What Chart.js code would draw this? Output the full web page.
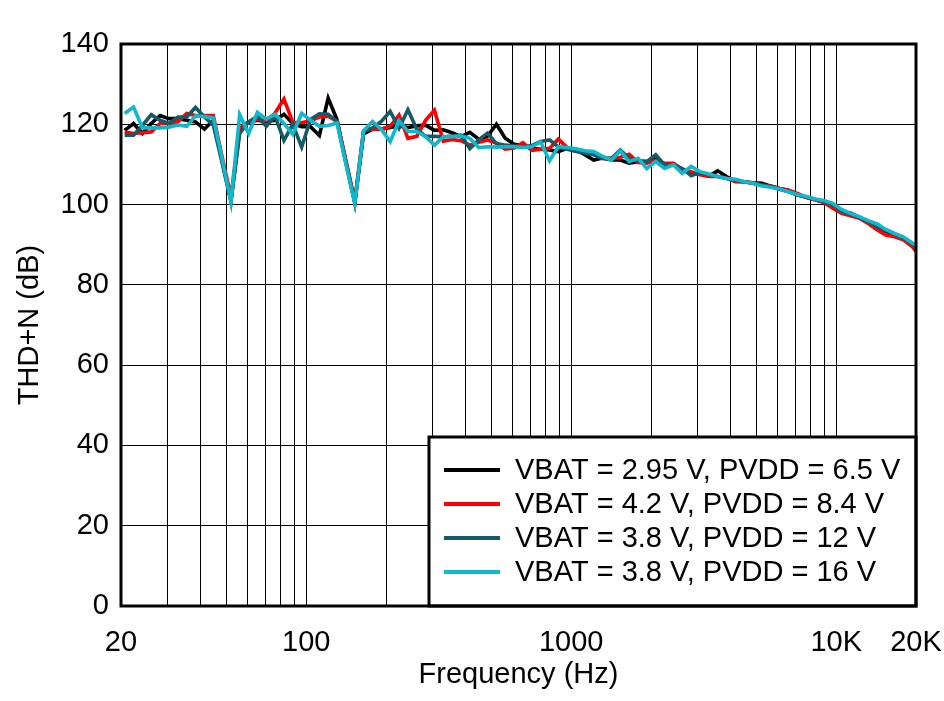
<!DOCTYPE html>
<html><head><meta charset="utf-8">
<script src="https://cdn.jsdelivr.net/npm/chart.js@4.4.0/dist/chart.umd.min.js"></script>
<style>html,body{margin:0;padding:0;background:#fff;overflow:hidden}</style>
</head><body>
<canvas id="c" width="944" height="701"></canvas>
<script>
// Frequency points (Hz)
const frequencies = [20.65,22.3,24.1,26.0,28.1,30.3,32.8,35.4,38.2,41.3,44.6,48.1,52.0,56.1,60.6,65.4,70.7,76.3,82.4,89.0,
 96.1,103.8,112.1,121.0,130.7,141.2,152.5,164.6,177.8,192.0,207.4,224.0,241.9,261.2,282.1,304.7,329.0,355.3,383.7,414.4,
 447.5,483.2,521.8,563.6,608.6,657.2,709.8,766.5,828,894,966,1043,1126,1216,1313,1418,1532,1654,1787,1929,
 2084,2250,2430,2624,2834,3061,3306,3570,3855,4164,4497,4856,5244,5664,6116,6605,7134,7704,8319,8984,
 9702,10478,11315,12219,13196,14250,15389,16618,17946,19381,20000];

// THD+N (dB) per supply condition
const vbat295_pvdd65 = [118.5,120.2,117.7,120.2,122.2,121.4,121.4,121.0,120.6,118.8,121.0,111.0,101.0,118.9,120.6,121.0,120.7,121.0,122.5,120.2,
 119.4,119.4,117.2,126.5,121.1,110.5,100.5,117.6,118.8,118.8,119.2,119.6,119.2,119.6,119.8,118.5,118.6,117.9,116.9,118.0,
 116.3,117.0,120.0,116.5,115.0,114.7,114.0,113.8,113.6,113.2,114.0,113.6,112.4,111.1,111.6,111.1,111.1,110.3,110.7,110.7,
 111.5,109.8,109.9,108.6,107.8,107.6,107.1,108.4,107.0,105.8,105.7,105.4,105.3,104.6,104.0,103.6,102.4,101.8,101.2,100.7,
 99.5,98.2,97.9,96.8,95.7,94.5,93.4,92.4,91.3,90.0,88.9];
const vbat42_pvdd84 = [118.1,117.7,117.9,118.1,120.2,120.2,120.6,122.7,122.2,122.2,122.2,112.0,102.0,119.0,120.6,121.2,120.9,122.8,126.3,120.5,
 120.4,120.9,121.8,122.0,120.7,111.0,101.0,118.3,118.8,118.8,119.5,122.3,116.5,117.0,121.0,123.5,115.8,116.2,115.9,114.8,
 115.5,116.1,115.3,113.8,114.1,115.4,113.5,113.8,114.0,116.3,114.2,113.5,113.2,112.5,111.5,111.5,111.8,112.5,110.5,110.3,
 111.0,110.3,110.3,108.8,108.2,107.4,107.0,107.0,106.6,105.7,105.7,105.3,104.9,104.5,104.0,103.6,102.8,101.8,101.2,100.5,
 99.1,97.8,97.2,96.6,95.3,93.7,92.4,92.0,91.2,89.5,88.3];
const vbat38_pvdd12 = [117.3,117.3,119.7,122.4,121.0,120.2,121.8,121.8,124.2,121.8,119.8,110.5,100.7,117.7,120.6,122.0,119.5,122.0,116.0,120.0,
 114.3,121.2,122.6,122.5,120.7,110.5,100.5,118.3,119.1,120.7,123.2,119.0,123.6,118.8,117.0,117.0,116.9,117.1,117.3,113.9,
 116.1,117.8,115.2,114.8,114.6,114.4,114.7,115.7,116.1,114.4,113.8,113.2,112.8,112.4,111.5,111.5,113.6,111.5,111.0,110.7,
 112.4,109.9,109.9,109.0,107.2,108.0,107.4,107.0,106.5,106.1,105.7,105.3,104.9,104.5,103.8,103.2,102.4,101.9,101.3,100.8,
 99.9,98.3,97.6,96.8,95.7,94.5,93.6,92.7,91.6,90.3,89.1];
const vbat38_pvdd16 = [122.7,124.3,119.1,119.1,119.1,119.3,119.8,119.5,122.1,121.9,121.6,111.5,100.7,122.4,117.7,123.0,121.3,122.5,120.2,117.5,
 122.7,121.0,119.5,119.7,120.3,110.0,100.2,118.4,120.7,118.7,115.7,120.9,118.2,118.2,116.9,114.8,116.9,116.9,117.1,116.5,
 114.2,114.4,114.3,114.4,114.4,114.2,114.4,115.6,110.9,114.4,114.2,113.9,113.4,113.2,112.0,111.1,113.4,110.7,111.5,109.0,
 110.7,109.0,109.9,107.8,109.5,108.2,107.6,107.0,106.5,106.3,105.7,105.3,104.6,104.3,103.9,103.2,102.5,102.0,101.4,101.0,
 100.3,98.8,97.8,97.0,96.0,95.2,93.8,92.8,91.9,90.4,89.9];

const seriesLabels = ['VBAT = 2.95 V, PVDD = 6.5 V','VBAT = 4.2 V, PVDD = 8.4 V','VBAT = 3.8 V, PVDD = 12 V','VBAT = 3.8 V, PVDD = 16 V'];
const seriesColors = ['#000000','#ff0000','#165a6a','#10b8cc'];
const xGridValues = [20,30,40,50,60,70,80,90,100,200,300,400,500,600,700,800,900,1000,2000,3000,4000,5000,6000,7000,8000,9000,10000,20000];
const xTickLabels = {20:'20',100:'100',1000:'1000',10000:'10K',20000:'20K'};
const yTicks = [0,20,40,60,80,100,120,140];

const FONT = "'Liberation Sans', Arial, sans-serif";
const allSeries = [vbat295_pvdd65, vbat42_pvdd84, vbat38_pvdd12, vbat38_pvdd16];
const datasets = allSeries.map((vals,i)=>({
  label: seriesLabels[i],
  data: frequencies.map((f,j)=>({x:f,y:vals[j]})),
  borderColor: seriesColors[i],
  backgroundColor: seriesColors[i],
  borderWidth: 3.6,
  pointRadius: 0,
  tension: 0,
  fill: false,
  order: 4 - i
}));

const framePlugin = {
  id:'frameLegend',
  afterDatasetsDraw(chart){
    const {ctx, chartArea:a} = chart;
    ctx.save();
    const bx = 429, by = 437, bw = a.right - bx, bh = a.bottom - by;
    ctx.fillStyle = '#fff';
    ctx.fillRect(bx, by, bw, bh);
    ctx.lineWidth = 3; ctx.strokeStyle = '#000';
    ctx.strokeRect(bx, by, bw, bh);
    ctx.font = '29px ' + FONT;
    ctx.textBaseline = 'middle';
    ctx.fillStyle = '#000';
    const ys = [470, 504, 538, 572];
    chart.data.datasets.forEach((ds,i)=>{
      ctx.strokeStyle = ds.borderColor; ctx.lineWidth = 4;
      ctx.beginPath(); ctx.moveTo(444, ys[i]); ctx.lineTo(500, ys[i]); ctx.stroke();
      ctx.fillText(ds.label, 515, ys[i]+1);
    });
    ctx.lineWidth = 3; ctx.strokeStyle = '#000';
    ctx.strokeRect(a.left, a.top, a.right - a.left, a.bottom - a.top);
    ctx.restore();
  }
};

new Chart(document.getElementById('c'), {
  type: 'line',
  data: { datasets },
  options: {
    responsive: false,
    animation: false,
    layout: { padding: { left: 0, right: 28, top: 44, bottom: 0 } },
    plugins: { legend: { display: false }, tooltip: { enabled: false } },
    scales: {
      x: {
        type: 'logarithmic', min: 20, max: 20000,
        afterBuildTicks: s => { s.ticks = xGridValues.map(v=>({value:v})); },
        afterFit: s => { s.height = 95; s.paddingLeft = 0; s.paddingRight = 0; },
        ticks: { autoSkip: false, maxRotation: 0, minRotation: 0, padding: 20, color: '#000',
          font: { family: FONT, size: 29 },
          callback: v => (xTickLabels[v] !== undefined ? xTickLabels[v] : '') },
        grid: { color: '#000', lineWidth: 1, drawTicks: false },
        border: { display: false },
        title: { display: true, text: 'Frequency (Hz)', color: '#000', font: { family: FONT, size: 29 }, padding: { top: 0, bottom: 9 } }
      },
      y: {
        min: 0, max: 140,
        afterBuildTicks: s => { s.ticks = yTicks.map(v=>({value:v})); },
        afterFit: s => { s.width = 121; s.paddingTop = 0; s.paddingBottom = 0; },
        ticks: { padding: 12, color: '#000', font: { family: FONT, size: 29 } },
        grid: { color: '#000', lineWidth: 1, drawTicks: false },
        border: { display: false },
        title: { display: true, text: 'THD+N (dB)', color: '#000', font: { family: FONT, size: 29 }, padding: { top: 13, bottom: 0 } }
      }
    }
  },
  plugins: [framePlugin]
});
</script>
</body></html>
